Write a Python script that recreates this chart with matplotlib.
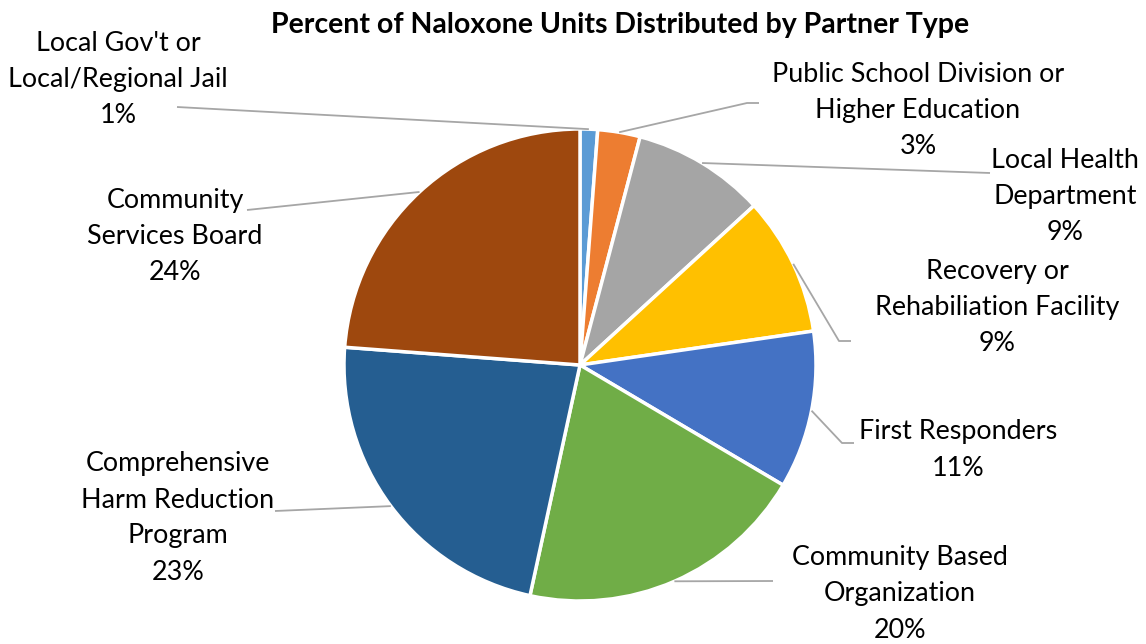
import numpy as np
import matplotlib
matplotlib.use("Agg")
import matplotlib.pyplot as plt

# ── Data ──────────────────────────────────────────────────────────────
partners = [
    "Local Gov't or\nLocal/Regional Jail",
    "Public School Division or\nHigher Education",
    "Local Health\nDepartment",
    "Recovery or\nRehabiliation Facility",
    "First Responders",
    "Community Based\nOrganization",
    "Comprehensive\nHarm Reduction\nProgram",
    "Community\nServices Board",
]
shares = [1.2, 2.9, 9.1, 9.5, 10.8, 19.9, 22.8, 23.8]
pct_labels = ["1%", "3%", "9%", "9%", "11%", "20%", "23%", "24%"]
colors = ["#5B9BD5", "#ED7D31", "#A5A5A5", "#FFC000",
          "#4472C4", "#70AD47", "#255E91", "#9E480E"]

W, H = 1146, 644
CX, CY, R = 580, 365, 236

# label block centers (pixel coords, y from top)
label_pos = [(118, 79), (918, 110), (1065, 196), (997, 307),
             (958, 450), (900, 594), (178, 518), (175, 236)]
# leader line points on the label side, listed from label end inward
leader_pts = [
    [(177, 107)],
    [(759, 103), (747, 103)],
    [(990, 173)],
    [(851, 341), (839, 341)],
    [(854, 443), (842, 443)],
    [(773, 581)],
    [(275, 511)],
    [(247, 210)],
]

plt.rcParams["font.family"] = ["Lato", "DejaVu Sans"]

fig = plt.figure(figsize=(W / 100, H / 100), dpi=100, facecolor="white")
ax = fig.add_axes([0, 0, 1, 1])

wedges, _ = ax.pie(shares, colors=colors, startangle=90, counterclock=False,
                   center=(CX, H - CY), radius=R,
                   wedgeprops=dict(edgecolor="white", linewidth=2.5))

ax.set_xlim(0, W)
ax.set_ylim(0, H)
ax.set_aspect("equal")
ax.axis("off")

for w, name, pct, (lx, ly), pts in zip(wedges, partners, pct_labels,
                                       label_pos, leader_pts):
    # leader line: wedge mid-angle on the rim -> elbow(s) -> label
    mid = np.radians((w.theta1 + w.theta2) / 2)
    ex = CX + R * np.cos(mid)
    ey = (H - CY) + R * np.sin(mid)
    xs = [ex] + [p[0] for p in reversed(pts)]
    ys = [ey] + [H - p[1] for p in reversed(pts)]
    ax.plot(xs, ys, color="#A6A6A6", lw=1.3, solid_capstyle="butt", zorder=1)
    ax.text(lx, H - ly, f"{name}\n{pct}", ha="center", va="center",
            fontsize=19.4, linespacing=1.55, color="#000000")

ax.text(620, H - 25, "Percent of Naloxone Units Distributed by Partner Type",
        ha="center", va="center", fontsize=20.5, fontweight="bold")

fig.savefig("out.png", dpi=100, facecolor="white")
